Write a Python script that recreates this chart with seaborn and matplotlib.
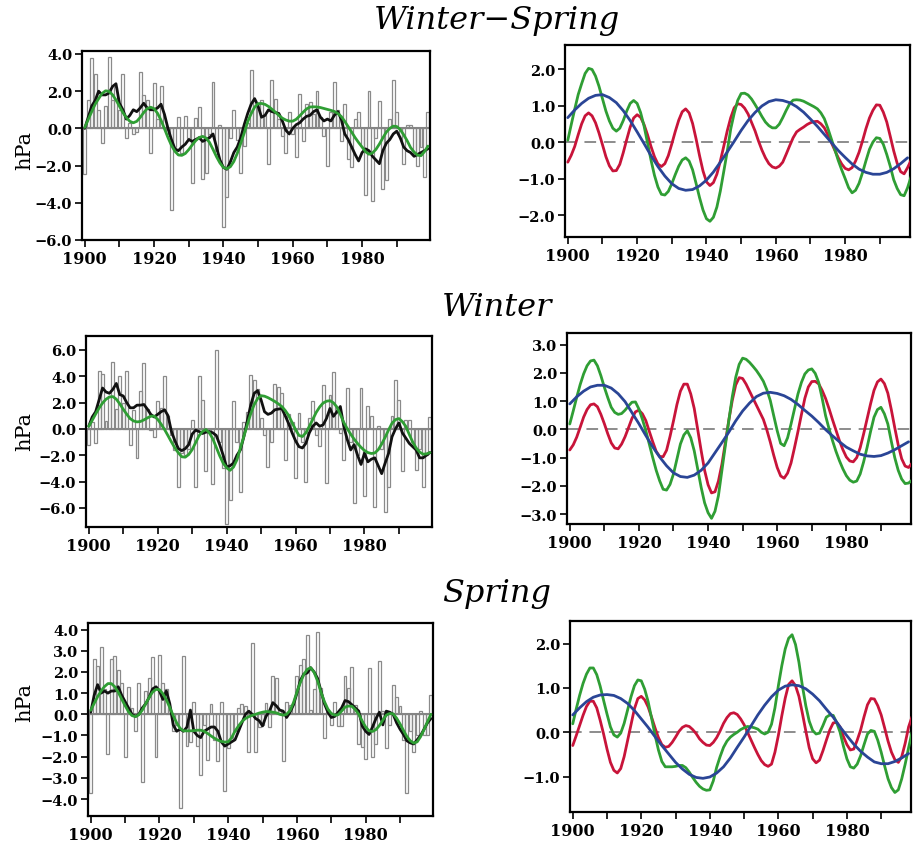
import matplotlib
matplotlib.use("Agg")
import matplotlib.pyplot as plt
import seaborn as sns
from matplotlib.ticker import FixedLocator, FuncFormatter

sns.set_style("ticks")
plt.rcParams['font.family'] = ['DejaVu Serif']
for k in ["text.color", "axes.labelcolor", "xtick.color", "ytick.color"]:
    plt.rcParams[k] = "black"

# ---------------- data ----------------
years = list(range(1900, 2000))
years2 = list(range(1900, 2000, 2))

# Winter-Spring
ws_bars = [-2.45, 1.5, 3.8, 2.9, 1.0, -0.8, 1.2, 3.85, 1.5, 2.2,
           1.0, 2.9, -0.5, 0.3, -0.3, -0.2, 3.05, 1.8, 1.5, -1.35,
           2.45, 0.5, 2.3, 0.1, -0.3, -4.4, -1.0, 0.6, -1.3, 0.65,
           -0.5, -2.95, 0.55, 1.15, -2.7, -2.4, -0.3, 2.5, -1.2, 0.2,
           -5.3, -3.7, -0.5, 1.0, -0.6, -2.4, -0.95, 0.3, 3.15, 1.55,
           1.3, 1.5, 0.7, -1.9, 2.6, 1.6, 0.5, -0.4, -1.3, 0.9,
           -0.3, -1.55, 1.85, -0.7, 1.3, 1.4, 0.8, 2.0, 0.6, -0.4,
           -2.0, 0.9, 2.5, 1.0, -0.7, 1.3, -1.65, -2.1, 0.5, 0.9,
           -1.0, -3.6, 2.0, -3.9, -0.5, 1.45, -3.25, -2.8, 0.5, 2.6,
           0.9, -0.5, -1.9, 0.2, 0.2, -1.5, -2.0, -1.0, -2.6, 0.9]
ws_black = [0.0, 0.6, 1.2, 1.5, 2.0, 1.8, 1.8, 1.9, 2.25, 2.4,
            1.35, 1.0, 0.5, 0.7, 1.0, 0.9, 1.1, 1.35, 1.1, 1.0,
            1.0, 1.1, 1.3, 0.75, 0.0, -0.6, -1.1, -1.2, -1.0, -0.85,
            -0.6, -0.7, -0.6, -0.5, -0.7, -0.6, -0.5, -0.3, -1.0, -1.7,
            -2.1, -2.2, -1.8, -1.3, -1.0, -0.5, 0.2, 0.8, 1.3, 1.6,
            1.2, 0.6, 0.7, 1.0, 0.9, 0.85, 0.8, 0.4, -0.1, -0.3,
            0.0, 0.2, 0.3, 0.5, 0.65, 0.7, 0.9, 1.0, 0.6, 0.4,
            0.5, 0.4, 0.7, 0.9, 0.5, -0.3, -0.6, -1.0, -1.4, -1.75,
            -1.3, -1.1, -1.2, -1.5, -1.7, -1.9, -1.2, -0.8, -0.6, -0.3,
            -0.15, -0.5, -1.0, -1.2, -1.3, -1.5, -1.4, -1.3, -1.2, -1.1]
ws_green = [0.05, 0.48, 0.9, 1.3, 1.6, 1.88, 2.02, 1.99, 1.81, 1.53,
            1.19, 0.85, 0.58, 0.38, 0.30, 0.38, 0.59, 0.85, 1.06, 1.14,
            1.06, 0.81, 0.44, -0.02, -0.49, -0.91, -1.23, -1.43, -1.45, -1.35,
            -1.14, -0.89, -0.66, -0.49, -0.43, -0.52, -0.76, -1.13, -1.52, -1.86,
            -2.10, -2.17, -2.06, -1.78, -1.34, -0.80, -0.25, 0.36, 0.79, 1.14,
            1.33, 1.34, 1.29, 1.18, 1.03, 0.87, 0.70, 0.55, 0.45, 0.39,
            0.39, 0.49, 0.67, 0.87, 1.05, 1.15, 1.16, 1.15, 1.12, 1.07,
            1.02, 0.97, 0.91, 0.80, 0.64, 0.38, 0.09, -0.2, -0.5, -0.76,
            -1.0, -1.25, -1.39, -1.32, -1.13, -0.84, -0.51, -0.20, 0.0, 0.12,
            0.10, -0.06, -0.34, -0.66, -1.03, -1.27, -1.44, -1.47, -1.25, -0.95]
ws_red = [-0.55, -0.36, -0.12, 0.20, 0.50, 0.72, 0.80, 0.72, 0.53, 0.25,
          -0.07, -0.40, -0.65, -0.79, -0.78, -0.61, -0.29, 0.07, 0.41, 0.66,
          0.75, 0.68, 0.48, 0.20, -0.12, -0.40, -0.60, -0.67, -0.59, -0.37,
          -0.05, 0.29, 0.60, 0.83, 0.91, 0.80, 0.51, 0.09, -0.37, -0.79,
          -1.09, -1.19, -1.11, -0.88, -0.52, -0.11, 0.31, 0.67, 0.94, 1.05,
          1.03, 0.93, 0.77, 0.54, 0.31, 0.03, -0.22, -0.43, -0.59, -0.68,
          -0.71, -0.66, -0.55, -0.33, -0.1, 0.12, 0.28, 0.35, 0.41, 0.48,
          0.53, 0.56, 0.57, 0.50, 0.39, 0.20, -0.01, -0.22, -0.43, -0.60,
          -0.72, -0.76, -0.70, -0.52, -0.28, 0.03, 0.37, 0.66, 0.87, 1.02,
          1.01, 0.82, 0.55, 0.16, -0.24, -0.58, -0.81, -0.87, -0.70, -0.5]
ws_blue = [0.67, 0.88, 1.06, 1.20, 1.28, 1.30, 1.22, 1.08, 0.86, 0.59,
           0.28, -0.04, -0.37, -0.67, -0.93, -1.14, -1.27, -1.32, -1.30, -1.20,
           -1.04, -0.82, -0.55, -0.27, 0.02, 0.32, 0.59, 0.81, 0.99, 1.11,
           1.16, 1.14, 1.08, 0.97, 0.82, 0.63, 0.43, 0.21, -0.01, -0.23,
           -0.42, -0.60, -0.74, -0.83, -0.88, -0.88, -0.83, -0.73, -0.59, -0.43]

# Winter
w_bars = [-1.2, 0.5, -1.1, 4.4, 4.2, 0.6, 2.5, 5.1, 1.5, 4.0,
          2.0, 4.4, -1.2, 1.4, -2.2, 2.9, 5.0, 1.5, -0.1, -0.6,
          2.1, 1.6, 4.0, 1.0, -0.5, -1.6, -4.4, -1.8, -2.0, -1.5,
          0.7, -4.4, 4.0, 2.2, -3.2, -0.3, -4.2, 6.0, -1.0, -3.0,
          -7.2, -5.4, 2.15, -1.0, -4.8, 0.5, 1.3, 4.1, 3.7, 3.0,
          0.8, -0.5, -2.9, -1.0, 3.4, 3.2, 2.7, -2.4, 1.1, 0.5,
          -3.75, 1.2, -1.0, -4.0, 0.8, 2.1, -0.5, -1.3, 3.35, -4.1,
          2.6, 4.35, 1.2, -0.3, -2.4, 3.1, -1.0, -5.6, -2.0, 3.1,
          -5.1, 1.7, 1.0, -5.9, 0.2, -1.5, -6.3, -4.4, 1.0, 3.7,
          2.2, -3.2, 0.7, 0.7, -1.0, -3.1, -1.5, -4.4, -2.0, 0.9]
w_black = [0.2, 0.9, 1.3, 2.2, 3.1, 2.8, 2.7, 3.0, 3.45, 2.6,
           2.5, 2.0, 1.6, 1.6, 1.8, 1.8, 1.85, 1.5, 1.1, 0.9,
           1.1, 1.3, 1.45, 1.0, -0.2, -0.9, -1.5, -1.65, -1.5, -1.2,
           -0.4, -0.1, -0.2, -0.35, -0.25, -0.2, -0.3, -0.5, -1.2, -2.0,
           -2.9, -2.8, -2.6, -2.0, -1.6, -0.6, 0.6, 1.8, 2.7, 2.9,
           2.2, 1.3, 1.1, 1.2, 1.45, 1.5, 1.55, 1.0, 0.4, -0.3,
           -0.9, -1.35, -1.45, -1.1, -0.3, 0.2, 0.45, 0.2, 0.3, 0.8,
           1.55, 0.95, 1.3, 1.7, 0.2, -0.8, -1.6, -1.2, -2.0, -2.7,
           -1.85, -2.5, -2.3, -2.2, -2.8, -3.4, -2.6, -1.85, -0.6, 0.0,
           0.45, -0.3, -0.7, -1.1, -1.35, -1.6, -2.2, -2.2, -2.0, -1.8]
w_green = [0.19, 0.65, 1.13, 1.58, 1.96, 2.25, 2.42, 2.45, 2.25, 1.90,
           1.49, 1.12, 0.78, 0.60, 0.53, 0.56, 0.68, 0.83, 0.96, 0.97,
           0.72, 0.36, -0.05, -0.52, -1.0, -1.45, -1.82, -2.12, -2.15, -1.95,
           -1.58, -1.05, -0.52, -0.20, -0.05, -0.30, -0.76, -1.40, -2.05, -2.60,
           -2.95, -3.15, -2.90, -2.35, -1.46, -0.58, 0.31, 1.15, 1.84, 2.30,
           2.52, 2.48, 2.37, 2.23, 2.08, 1.90, 1.70, 1.40, 1.02, 0.48,
           -0.05, -0.50, -0.58, -0.30, 0.19, 0.72, 1.25, 1.66, 1.96, 2.10,
           2.14, 1.98, 1.66, 1.10, 0.48, 0.02, -0.4, -0.78, -1.11, -1.40,
           -1.64, -1.80, -1.87, -1.83, -1.58, -1.15, -0.64, -0.08, 0.43, 0.70,
           0.78, 0.55, 0.19, -0.42, -1.0, -1.45, -1.76, -1.92, -1.9, -1.80]
w_red = [-0.73, -0.55, -0.28, 0.07, 0.43, 0.70, 0.87, 0.90, 0.80, 0.53,
         0.20, -0.16, -0.48, -0.66, -0.69, -0.52, -0.26, 0.06, 0.39, 0.62,
         0.68, 0.55, 0.31, -0.07, -0.44, -0.78, -0.96, -0.97, -0.74, -0.25,
         0.30, 0.88, 1.35, 1.60, 1.60, 1.25, 0.74, 0.0, -0.75, -1.45,
         -1.96, -2.25, -2.21, -1.83, -1.24, -0.47, 0.32, 1.02, 1.57, 1.83,
         1.80, 1.60, 1.35, 1.10, 0.85, 0.60, 0.35, -0.02, -0.45, -0.92,
         -1.35, -1.65, -1.73, -1.55, -1.19, -0.65, -0.08, 0.52, 1.10, 1.50,
         1.69, 1.70, 1.61, 1.38, 1.09, 0.73, 0.34, -0.03, -0.40, -0.72,
         -0.98, -1.12, -1.15, -1.0, -0.65, -0.16, 0.37, 0.90, 1.38, 1.68,
         1.78, 1.62, 1.28, 0.70, 0.06, -0.55, -1.04, -1.30, -1.35, -1.2]
w_blue = [0.90, 1.15, 1.35, 1.50, 1.56, 1.56, 1.46, 1.26, 0.98, 0.59,
          0.20, -0.22, -0.62, -0.98, -1.29, -1.54, -1.67, -1.70, -1.62, -1.45,
          -1.19, -0.83, -0.47, -0.10, 0.30, 0.65, 0.93, 1.16, 1.28, 1.31,
          1.27, 1.19, 1.06, 0.88, 0.67, 0.47, 0.24, -0.01, -0.23, -0.44,
          -0.63, -0.76, -0.88, -0.94, -0.96, -0.93, -0.84, -0.72, -0.58, -0.44]

# Spring
s_bars = [-3.7, 2.6, 2.3, 3.2, 1.2, -1.85, 2.6, 2.75, 2.1, 1.5,
          -2.0, 1.3, 0.3, -0.8, 1.5, -3.2, 1.1, 1.7, 2.7, -2.0,
          2.8, 1.5, 1.2, 0.3, -0.8, -0.5, -4.4, 2.75, -1.5, -1.3,
          0.6, -1.5, -2.85, -0.5, -2.15, 0.5, -1.2, -2.2, 0.6, -3.6,
          -1.6, -1.1, -0.8, 0.3, 0.5, 0.4, -1.8, 3.35, -1.8, -0.6,
          -0.5, 0.55, -0.6, 1.8, 1.7, 0.2, -2.2, 0.6, 0.45, 0.5,
          1.8, 2.35, 2.6, 3.75, 0.2, 1.2, 3.9, 1.25, -1.1, 0.1,
          -0.5, 0.6, -0.55, -0.55, 1.8, 1.25, 2.25, 0.45, -1.4, -1.55,
          -2.1, 2.2, -2.0, -1.4, 2.5, 0.15, -1.6, -0.5, 1.4, 0.8,
          0.4, -1.2, -3.7, -0.8, -1.8, -1.0, 0.15, -1.0, -1.0, 0.9]
s_black = [0.1, 0.9, 1.4, 1.0, 1.1, 1.0, 1.1, 1.1, 1.3, 0.9,
           0.6, 0.3, 0.0, -0.1, 0.0, 0.3, 0.5, 0.8, 1.2, 1.3,
           1.1, 0.7, 1.1, 0.5, -0.5, -0.8, -0.7, -0.8, -0.6, 0.2,
           -0.8, -1.0, -1.1, -0.8, -0.7, -0.6, -0.6, -0.8, -1.3, -1.5,
           -1.4, -1.3, -1.2, -0.8, -0.4, 0.0, 0.15, 0.0, -0.2, -0.3,
           -0.55, -0.1, 0.15, 0.55, 0.4, 0.2, 0.15, -0.15, 0.1, 0.45,
           1.0, 1.6, 1.9, 1.95, 2.2, 2.0, 1.7, 1.1, 0.5, 0.1,
           -0.15, -0.1, 0.1, 0.3, 0.65, 0.6, 0.45, 0.3, 0.15, -0.55,
           -0.8, -0.95, -0.6, -0.2, 0.1, -0.5, 0.15, 0.1, 0.0, -0.4,
           -0.7, -0.95, -1.25, -1.35, -1.4, -1.2, -1.0, -0.7, -0.4, -0.2]
s_green = [0.19, 0.52, 0.83, 1.10, 1.31, 1.45, 1.45, 1.30, 1.04, 0.72,
           0.41, 0.12, -0.06, -0.11, -0.02, 0.20, 0.50, 0.80, 1.05, 1.18,
           1.16, 0.97, 0.69, 0.32, -0.06, -0.40, -0.66, -0.78, -0.78, -0.78,
           -0.77, -0.75, -0.75, -0.80, -0.9, -1.02, -1.13, -1.22, -1.28, -1.31,
           -1.30, -1.10, -0.79, -0.55, -0.34, -0.20, -0.11, -0.05, 0.0, 0.06,
           0.10, 0.13, 0.12, 0.10, 0.07, 0.0, -0.04, 0.0, 0.18, 0.55,
           1.05, 1.50, 1.88, 2.12, 2.20, 1.98, 1.58, 1.05, 0.6, 0.25,
           0.04, -0.04, -0.02, 0.15, 0.34, 0.39, 0.38, 0.22, 0.0, -0.32,
           -0.6, -0.78, -0.81, -0.72, -0.53, -0.28, -0.04, 0.04, 0.02, -0.18,
           -0.45, -0.76, -1.05, -1.25, -1.36, -1.30, -1.05, -0.72, -0.35, 0.0]
s_red = [-0.30, -0.08, 0.15, 0.38, 0.58, 0.70, 0.70, 0.55, 0.27, -0.04,
         -0.38, -0.68, -0.86, -0.92, -0.82, -0.55, -0.19, 0.17, 0.53, 0.76,
         0.81, 0.73, 0.57, 0.34, 0.10, -0.12, -0.28, -0.34, -0.32, -0.23,
         -0.11, 0.02, 0.11, 0.15, 0.13, 0.06, -0.03, -0.15, -0.23, -0.29,
         -0.30, -0.23, -0.12, 0.03, 0.20, 0.33, 0.42, 0.44, 0.40, 0.30,
         0.17, 0.0, -0.17, -0.34, -0.50, -0.64, -0.73, -0.77, -0.72, -0.45,
         -0.07, 0.37, 0.77, 1.08, 1.16, 1.05, 0.81, 0.43, 0.03, -0.35,
         -0.6, -0.69, -0.63, -0.42, -0.18, 0.05, 0.21, 0.22, 0.12, -0.10,
         -0.28, -0.40, -0.38, -0.18, 0.05, 0.35, 0.62, 0.76, 0.75, 0.60,
         0.39, 0.10, -0.20, -0.45, -0.62, -0.68, -0.55, -0.25, 0.12, 0.35]
s_blue = [0.39, 0.55, 0.69, 0.79, 0.84, 0.85, 0.83, 0.76, 0.65, 0.49,
          0.30, 0.11, -0.10, -0.30, -0.49, -0.68, -0.83, -0.95, -1.02, -1.04,
          -1.01, -0.92, -0.78, -0.58, -0.34, -0.11, 0.14, 0.39, 0.61, 0.80,
          0.95, 1.04, 1.07, 1.05, 0.98, 0.86, 0.71, 0.52, 0.34, 0.12,
          -0.08, -0.27, -0.43, -0.56, -0.67, -0.71, -0.71, -0.66, -0.58, -0.48]

titles = ["Winter\u2212Spring", "Winter", "Spring"]
xtick_labels = [1900, 1920, 1940, 1960, 1980]

# ---------------- style ----------------
W, H = 913, 845
BAR = "#8a8a8a"
GREEN = "#2f9e34"
RED = "#c8143a"
BLUE = "#2a4596"

fig = plt.figure(figsize=(W / 100, H / 100), dpi=100)
fig.patch.set_facecolor("white")


def add_ax(x0, y0, x1, y1):
    return fig.add_axes([x0 / W, 1 - y1 / H, (x1 - x0) / W, (y1 - y0) / H])


def fmt(v, pos):
    return f"{v:.1f}".replace("-", "\u2212")


def style(ax, xlim, ylim, yticks):
    ax.set_xlim(*xlim)
    ax.set_ylim(*ylim)
    ax.xaxis.set_major_locator(FixedLocator(xtick_labels))
    ax.xaxis.set_minor_locator(FixedLocator([1910, 1930, 1950, 1970, 1990]))
    ax.yaxis.set_major_locator(FixedLocator(yticks))
    ax.yaxis.set_minor_locator(FixedLocator([]))
    ax.yaxis.set_major_formatter(FuncFormatter(fmt))
    ax.xaxis.set_major_formatter(FuncFormatter(lambda v, p: f"{int(v)}"))
    ax.tick_params(axis="both", which="both", direction="out", length=5,
                   width=1.2, color="black", pad=2, labelcolor="black")
    ax.tick_params(axis="x", labelsize=11.5)
    ax.tick_params(axis="y", labelsize=10.5)
    for lab in ax.get_xticklabels() + ax.get_yticklabels():
        lab.set_fontfamily("DejaVu Serif")
        lab.set_fontweight("bold")
    for sp in ax.spines.values():
        sp.set_visible(True)
        sp.set_color("black")
        sp.set_linewidth(1.6)
    ax.set_xlabel("")
    ax.set_ylabel("")
    ax.grid(False)


left_boxes = [(82, 52, 430, 241), (86, 337, 432, 528), (88, 624, 433, 817)]
right_boxes = [(565, 46, 910, 238), (567, 334, 911, 525), (570, 622, 911, 813)]
left_ylims = [(-6.0, 4.16), (-7.45, 7.05), (-4.8, 4.31)]
left_yticks = [[-6, -4, -2, 0, 2, 4], [-6, -4, -2, 0, 2, 4, 6],
               [-4, -3, -2, -1, 0, 1, 2, 3, 4]]
right_ylims = [(-2.6, 2.66), (-3.35, 3.41), (-1.8, 2.51)]
right_yticks = [[-2, -1, 0, 1, 2], [-3, -2, -1, 0, 1, 2, 3], [-1, 0, 1, 2]]

bars_all = [ws_bars, w_bars, s_bars]
black_all = [ws_black, w_black, s_black]
green_all = [ws_green, w_green, s_green]
red_all = [ws_red, w_red, s_red]
blue_all = [ws_blue, w_blue, s_blue]
title_y = [20, 307, 594]
hpa_y = [150, 432, 702]

for i in range(3):
    # ---- left panel: bars + running mean + reconstructed signal
    ax = add_ax(*left_boxes[i])
    sns.barplot(x=years, y=bars_all[i], native_scale=True, fill=False,
                color=BAR, width=0.85, linewidth=0.9, errorbar=None, ax=ax)
    ax.axhline(0, color="#858585", lw=1.5, zorder=1)
    sns.lineplot(x=years, y=black_all[i], color="#111111", lw=2.0, ax=ax,
                 zorder=4)
    sns.lineplot(x=years, y=green_all[i], color=GREEN, lw=2.0, ax=ax,
                 zorder=5)
    style(ax, (1899.2, 1999.6), left_ylims[i], left_yticks[i])

    # ---- right panel: components
    ax2 = add_ax(*right_boxes[i])
    ax2.axhline(0, color="#8c8c8c", lw=1.4, ls=(0, (6, 4)), zorder=1)
    sns.lineplot(x=years, y=red_all[i], color=RED, lw=2.0, ax=ax2, zorder=3)
    sns.lineplot(x=years, y=green_all[i], color=GREEN, lw=2.0, ax=ax2,
                 zorder=4)
    sns.lineplot(x=years2, y=blue_all[i], color=BLUE, lw=2.0, ax=ax2,
                 zorder=5)
    style(ax2, (1899.2, 1998.7), right_ylims[i], right_yticks[i])

    fig.text(497 / W, 1 - title_y[i] / H, titles[i], ha="center", va="center",
             family="DejaVu Serif", style="italic", size=23, color="black")
    fig.text(25 / W, 1 - hpa_y[i] / H, "hPa", ha="center", va="center",
             rotation=90, family="DejaVu Serif", size=15, color="black")

fig.savefig("out.png", dpi=100, facecolor="white")
